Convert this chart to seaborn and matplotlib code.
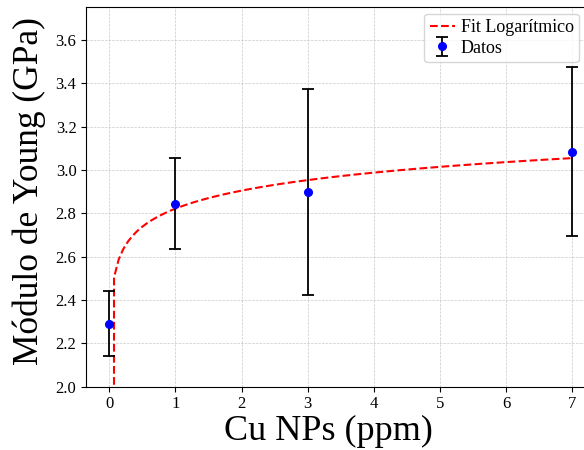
import numpy as np
import pandas as pd
import matplotlib
matplotlib.use("Agg")
import matplotlib.pyplot as plt
import seaborn as sns

# Data
cu_ppm = [0, 1, 3, 7]
young_gpa = [2.29, 2.845, 2.90, 3.085]
young_err = [0.15, 0.21, 0.475, 0.39]

sns.set_style("white")
plt.rcParams["font.family"] = ["Liberation Serif", "DejaVu Serif"]
plt.rcParams["text.color"] = "black"
plt.rcParams["axes.labelcolor"] = "black"
plt.rcParams["xtick.color"] = "black"
plt.rcParams["ytick.color"] = "black"

x = np.array(cu_ppm, dtype=float)
y = np.array(young_gpa, dtype=float)
# logarithmic fit  y = a*ln(x) + b  (on x > 0)
mask = x > 0
a, b = np.polyfit(np.log(x[mask]), y[mask], 1)
x_fit = np.linspace(0, 7, 100)
x_fit[0] = 1e-300  # ln(0) -> effectively -inf, curve drops off the axis
y_fit = a * np.log(x_fit) + b
fit_df = pd.DataFrame({"x": x_fit, "y": y_fit})

fig = plt.figure(figsize=(5.84, 4.5), dpi=100)
ax = fig.add_axes([0.1476, 0.1407, 0.872, 0.8427])

sns.lineplot(data=fit_df, x="x", y="y", ax=ax, color="red", linestyle="--",
             lw=1.5, label="Fit Logarítmico", sort=False, estimator=None)
ax.errorbar(x, y, yerr=young_err, fmt="o", color="blue", ecolor="black",
            elinewidth=1.3, capsize=4, capthick=1.3, markersize=5.5,
            label="Datos", zorder=3)

ax.set_xlim(-0.35, 7.35)
ax.set_ylim(2.0, 3.75)
ax.set_xticks(range(0, 8))
ax.set_yticks([2.0, 2.2, 2.4, 2.6, 2.8, 3.0, 3.2, 3.4, 3.6])
ax.grid(True, linestyle="--", linewidth=0.5, color="#bbbbbb", alpha=0.8)
ax.tick_params(axis="both", labelsize=12, length=3.5, width=0.8, direction="out",
               bottom=True, left=True, color="black", labelcolor="black")
for s in ax.spines.values():
    s.set_color("black")
    s.set_linewidth(0.8)

ax.set_xlabel("Cu NPs (ppm)", fontsize=26, labelpad=2, color="black")
ax.set_ylabel("Módulo de Young (GPa)", fontsize=25.5, labelpad=7, color="black")
ax.xaxis.label.set_x(0.4748)
ax.yaxis.label.set_y(0.516)
ax.legend(loc="upper right", bbox_to_anchor=(0.98, 1.0), fontsize=13,
          frameon=True, handlelength=1.4, handletextpad=0.3, labelspacing=0.2,
          borderpad=0.3, borderaxespad=0.35)

fig.savefig("out.png", dpi=100)
